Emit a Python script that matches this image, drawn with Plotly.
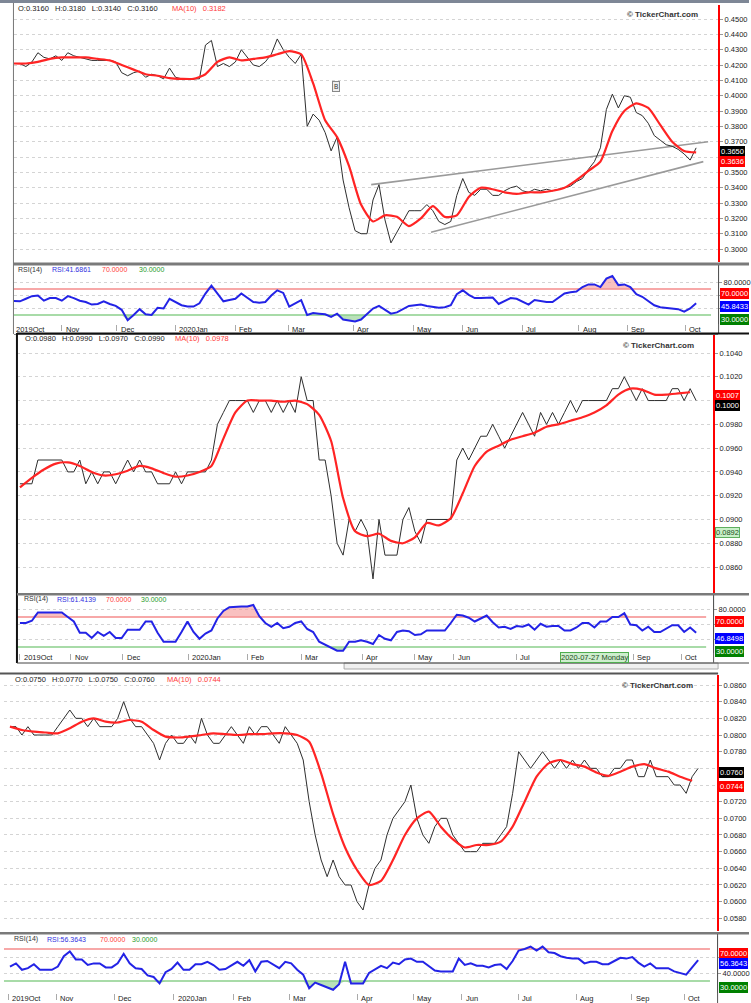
import numpy as np
import plotly.graph_objects as go

W, H = 751, 1003
FONT = "Liberation Sans, Arial, sans-serif"

MONTHS = ["2019Oct", "Nov", "Dec", "2020Jan", "Feb", "Mar", "Apr", "May",
          "Jun", "Jul", "Aug", "Sep", "Oct"]

# ---------------- Panel 1 ----------------
P1_CLOSE = [0.421, 0.421, 0.419, 0.422, 0.428, 0.425, 0.424, 0.426, 0.423, 0.428,
            0.426, 0.425, 0.424, 0.423, 0.423, 0.423, 0.423, 0.422, 0.415, 0.413,
            0.415, 0.416, 0.412, 0.414, 0.413, 0.411, 0.418, 0.412, 0.411, 0.411,
            0.411, 0.411, 0.433, 0.436, 0.419, 0.421, 0.419, 0.422, 0.430, 0.425,
            0.420, 0.419, 0.422, 0.427, 0.437, 0.430, 0.425, 0.421, 0.427, 0.380,
            0.388, 0.384, 0.376, 0.364, 0.373, 0.345, 0.327, 0.312, 0.310, 0.310,
            0.332, 0.342, 0.319, 0.304, 0.311, 0.318, 0.325, 0.325, 0.325, 0.329,
            0.325, 0.318, 0.316, 0.318, 0.335, 0.346, 0.337, 0.335, 0.339, 0.339,
            0.335, 0.335, 0.338, 0.340, 0.341, 0.338, 0.337, 0.339, 0.338, 0.339,
            0.338, 0.339, 0.340, 0.341, 0.344, 0.346, 0.352, 0.357, 0.366, 0.391,
            0.401, 0.392, 0.400, 0.399, 0.389, 0.387, 0.382, 0.374, 0.371, 0.368,
            0.367, 0.365, 0.362, 0.358, 0.366]
P1_MA = [0.421, 0.421, 0.422, 0.424, 0.425, 0.425, 0.425, 0.424, 0.423, 0.420,
         0.417, 0.414, 0.413, 0.4115, 0.411, 0.411, 0.414, 0.422, 0.425, 0.423,
         0.424, 0.425, 0.427, 0.429, 0.427, 0.408, 0.384, 0.373, 0.354, 0.329,
         0.318, 0.322, 0.321, 0.315, 0.320, 0.328, 0.321, 0.322, 0.334, 0.340,
         0.339, 0.337, 0.336, 0.337, 0.337, 0.338, 0.340, 0.345, 0.351, 0.357,
         0.377, 0.390, 0.395, 0.392, 0.381, 0.370, 0.364, 0.363]
P1_RSI = [51.5, 51, 55, 59, 60, 52, 56, 56, 52, 59,
          56, 52, 50, 46, 47, 51, 47, 44, 38, 22,
          30, 39, 31, 30, 41, 40, 55, 50, 45, 43,
          43, 48, 63, 75, 63, 51, 53, 55, 63, 57,
          50, 49, 50, 60, 68, 64, 43, 48, 53, 30,
          33, 32, 31, 27, 32, 23, 21, 20, 23, 31,
          40, 44, 37.5, 32, 34, 39, 44, 45, 46, 44,
          43, 41, 42, 45, 62, 68, 61, 56, 56, 57,
          57, 47, 51, 56, 55, 50, 46, 53, 51, 50,
          50, 56, 63, 65, 66, 73, 77, 77, 73, 86,
          90, 76, 77, 73, 62, 58, 51, 45, 42, 41,
          40, 39, 35, 40, 48]
P1_MONTH_IDX = [0, 8.3, 17.5, 27.3, 37.3, 46.2, 57, 67, 75.2, 85.2, 94.7, 102.8, 112.5]
P1_MONTHS = MONTHS
P1_YTICKS = [0.30, 0.31, 0.32, 0.33, 0.34, 0.35, 0.36, 0.37, 0.38, 0.39,
             0.40, 0.41, 0.42, 0.43, 0.44, 0.45]
P1_TREND_UP_X = [59.7, 116.0]
P1_TREND_UP_Y = [0.342, 0.370]
P1_TREND_LO_X = [69.7, 115.2]
P1_TREND_LO_Y = [0.311, 0.357]

# ---------------- Panel 2 ----------------
P2_CLOSE = [0.093, 0.093, 0.093, 0.095, 0.095, 0.095, 0.095, 0.095, 0.094, 0.094,
            0.095, 0.093, 0.094, 0.093, 0.094, 0.094, 0.093, 0.094, 0.095, 0.094,
            0.095, 0.094, 0.094, 0.093, 0.093, 0.093, 0.094, 0.093, 0.094, 0.094,
            0.094, 0.094, 0.095, 0.098, 0.099, 0.100, 0.100, 0.100, 0.100, 0.099,
            0.100, 0.100, 0.099, 0.100, 0.099, 0.100, 0.099, 0.102, 0.100, 0.100,
            0.095, 0.095, 0.092, 0.088, 0.087, 0.090, 0.089, 0.090, 0.089, 0.085,
            0.090, 0.087, 0.087, 0.087, 0.090, 0.091, 0.089, 0.088, 0.090, 0.090,
            0.090, 0.090, 0.090, 0.095, 0.096, 0.095, 0.096, 0.097, 0.097, 0.098,
            0.097, 0.096, 0.097, 0.098, 0.099, 0.098, 0.097, 0.099, 0.098, 0.099,
            0.098, 0.099, 0.100, 0.099, 0.100, 0.100, 0.100, 0.100, 0.100, 0.101,
            0.101, 0.102, 0.101, 0.100, 0.101, 0.100, 0.100, 0.100, 0.100, 0.101,
            0.101, 0.100, 0.101, 0.100]
P2_MA = [0.0927, 0.0935, 0.0942, 0.0947, 0.0948, 0.0945, 0.0940, 0.0937, 0.0938, 0.0941,
         0.0945, 0.0943, 0.0939, 0.0936, 0.0937, 0.0940, 0.0945, 0.0968, 0.0990, 0.1000,
         0.1000, 0.1000, 0.0999, 0.1000, 0.0997, 0.0988, 0.0966, 0.0918, 0.0890, 0.0886,
         0.0888, 0.0882, 0.0880, 0.0885, 0.0897, 0.0895, 0.0901, 0.0922, 0.0945, 0.0957,
         0.0962, 0.0967, 0.0970, 0.0973, 0.0978, 0.0980, 0.0983, 0.0986, 0.0990, 0.0996,
         0.1005, 0.1010, 0.1009, 0.1005, 0.1005, 0.1006, 0.1007]
P2_RSI = [62, 62, 65, 76, 76, 76, 76, 76, 70, 64,
          49, 49, 42, 50, 45, 50, 42, 42, 53, 53,
          53, 64, 64, 49, 37, 37, 37, 50, 64, 50,
          41, 48, 52, 68, 78, 83, 84, 84, 84, 86,
          71, 62, 57, 62, 55, 57, 62, 64, 54, 50,
          37, 33, 28, 25, 25, 37, 37, 39, 37, 34,
          46, 41, 39, 50, 52, 51, 46, 47, 52, 52,
          52, 52, 62, 73, 72, 69, 64, 68, 72, 63,
          56, 57, 54, 58, 57, 60, 53, 61, 57, 58,
          58, 52, 52, 56, 62, 62, 56, 64, 64, 70,
          70, 75, 60, 59, 52, 57, 50, 50, 55, 59,
          59, 50, 56, 49]
# Aug is hidden under the cursor-date box in the reference
P2_MONTH_IDX = [0.3, 8.8, 17.5, 28.5, 38.3, 47.3, 57.5, 66.2, 72.8, 83.3, 102.8, 110.8]
P2_MONTHS = ["2019Oct", "Nov", "Dec", "2020Jan", "Feb", "Mar", "Apr", "May",
             "Jun", "Jul", "Sep", "Oct"]
P2_YTICKS = [0.086, 0.088, 0.090, 0.092, 0.094, 0.096, 0.098, 0.100, 0.102, 0.104]

# ---------------- Panel 3 ----------------
P3_CLOSE = [0.081, 0.081, 0.080, 0.081, 0.080, 0.080, 0.080, 0.080, 0.081, 0.082,
            0.083, 0.082, 0.082, 0.081, 0.082, 0.081, 0.081, 0.081, 0.082, 0.084,
            0.082, 0.081, 0.081, 0.080, 0.079, 0.077, 0.079, 0.080, 0.079, 0.079,
            0.080, 0.079, 0.082, 0.080, 0.079, 0.079, 0.080, 0.081, 0.080, 0.079,
            0.081, 0.080, 0.081, 0.081, 0.080, 0.079, 0.081, 0.080, 0.079, 0.077,
            0.072, 0.068, 0.065, 0.063, 0.065, 0.063, 0.062, 0.062, 0.060, 0.059,
            0.062, 0.064, 0.065, 0.068, 0.070, 0.071, 0.072, 0.074, 0.070, 0.068,
            0.067, 0.069, 0.070, 0.070, 0.068, 0.067, 0.066, 0.066, 0.066, 0.067,
            0.067, 0.067, 0.068, 0.069, 0.073, 0.078, 0.077, 0.076, 0.077, 0.078,
            0.077, 0.076, 0.077, 0.076, 0.077, 0.076, 0.077, 0.076, 0.076, 0.075,
            0.075, 0.076, 0.076, 0.077, 0.077, 0.075, 0.075, 0.077, 0.075, 0.075,
            0.075, 0.074, 0.074, 0.073, 0.075, 0.076]
P3_MA = [0.0810, 0.0806, 0.0804, 0.0803, 0.0802, 0.0808, 0.0816, 0.0820, 0.0816, 0.0815,
         0.0818, 0.0816, 0.0806, 0.0798, 0.0797, 0.0798, 0.0800, 0.0802, 0.0801, 0.0800,
         0.0801, 0.0801, 0.0802, 0.0802, 0.0800, 0.0792, 0.0754, 0.0705, 0.0665, 0.0638,
         0.0620, 0.0625, 0.0650, 0.0680, 0.0700, 0.0708, 0.0690, 0.0675, 0.0665, 0.0668,
         0.0668, 0.0672, 0.0690, 0.0720, 0.0750, 0.0766, 0.0770, 0.0765, 0.0762, 0.0755,
         0.0751, 0.0756, 0.0762, 0.0765, 0.0760, 0.0756, 0.0750, 0.0745]
P3_RSI = [48, 52, 44, 46, 51, 44, 44, 44, 48, 61,
          67, 57, 57, 50, 52, 52, 47, 47, 52, 64,
          52, 46, 45, 37, 35, 27, 41, 45, 53, 44,
          44, 51, 51, 54, 50, 44, 45, 50, 54, 49,
          56, 42, 54, 55, 50, 46, 54, 52, 44, 38,
          21, 28, 25, 22, 19, 26, 54, 27, 27, 27,
          40, 44, 49, 46, 53, 51, 57, 58, 54, 54,
          49, 43, 42, 42, 42, 58, 50, 52, 49, 49,
          47, 50, 51, 45, 55, 68, 70, 73, 68, 73,
          66, 65, 61, 59, 58, 58, 52, 54, 54, 51,
          51, 55, 59, 58, 60, 53, 48, 52, 46, 46,
          46, 42, 40, 38, 47, 56]
P3_MONTH_IDX = [0, 8, 17.8, 27.7, 37.7, 47, 58.3, 67.7, 75.8, 85.2, 95, 104.2, 113]
P3_MONTHS = MONTHS
P3_YTICKS = [0.058, 0.060, 0.062, 0.064, 0.066, 0.068, 0.070, 0.072, 0.074, 0.076,
             0.078, 0.080, 0.082, 0.084, 0.086]

HEADERS = [
    ("O:0.3160", "H:0.3180", "L:0.3140", "C:0.3160", "0.3182"),
    ("O:0.0980", "H:0.0990", "L:0.0970", "C:0.0990", "0.0978"),
    ("O:0.0750", "H:0.0770", "L:0.0750", "C:0.0760", "0.0744"),
]
RSI_LAST = ["41.6861", "61.4139", "56.3643"]
RSI_BOX = ["45.8433", "46.8498", "56.3643"]


def fx(p):
    return p / W


def fy(p):
    return 1 - p / H


STEP = 6.0  # pixels per sample step
PANELS = [
    dict(close=P1_CLOSE, ma=P1_MA, rsi=P1_RSI, months=P1_MONTH_IDX, mlabels=P1_MONTHS, yt=P1_YTICKS,
         hide=[0.36],
         x0=14, left=14, right=720, ptop=5, pbot=262, rtop=266, rbot=324,
         prange=[0.29156, 0.45913], rrange=[16.15, 105.38], rgrid=[40, 60, 80], rlab=[80],
         label_y=329, head_x=16, head_y=8, ma_x=170, rhead_y=270,
         rhead_xs=[16, 50, 100, 137], logo=(627, 15), boxx=722,
         rboxes=[(293, "70.0000", "#ff0000"), (306, RSI_BOX[0], "#0000ff"), (319, "30.0000", "#008000")],
         pboxes=[(151.5, "0.3650", "#000000"), (161.5, "0.3636", "#ff0000")]),
    dict(close=P2_CLOSE, ma=P2_MA, rsi=P2_RSI, months=P2_MONTH_IDX, mlabels=P2_MONTHS, yt=P2_YTICKS,
         hide=[0.100],
         x0=20, left=17, right=715, ptop=335, pbot=593, rtop=596, rbot=653,
         prange=[0.083815, 0.105514], rrange=[22.0, 98.0], rgrid=[40, 60, 80], rlab=[80],
         label_y=657.5, head_x=23, head_y=338, ma_x=173, rhead_y=599,
         rhead_xs=[22, 55, 104, 139], logo=(623, 345), boxx=717,
         rboxes=[(621, "70.0000", "#ff0000"), (638, RSI_BOX[1], "#0000ff"), (651, "30.0000", "#008000")],
         pboxes=[(395.5, "0.1007", "#ff0000"), (405.5, "0.1000", "#000000")]),
    dict(close=P3_CLOSE, ma=P3_MA, rsi=P3_RSI, months=P3_MONTH_IDX, mlabels=P3_MONTHS, yt=P3_YTICKS,
         hide=[0.074, 0.076],
         x0=10, left=4, right=719, ptop=675, pbot=931, rtop=936, rbot=993,
         prange=[0.056479, 0.0872], rrange=[15.0, 86.25], rgrid=[40, 60], rlab=[40],
         label_y=998, head_x=13, head_y=679, ma_x=165, rhead_y=939,
         rhead_xs=[12, 45, 98, 130], logo=(622, 685), boxx=721,
         rboxes=[(953, "70.0000", "#ff0000"), (963.5, RSI_BOX[2], "#0000ff"), (987, "30.0000", "#008000")],
         pboxes=[(772, "0.0760", "#000000"), (786, "0.0744", "#ff0000")]),
]

fig = go.Figure()
layout = dict(width=W, height=H, margin=dict(l=0, r=0, t=0, b=0),
              paper_bgcolor="white", plot_bgcolor="white", showlegend=False,
              font=dict(family=FONT, size=8, color="#222"))
shapes = []
annotations = []


def hline(x0, x1, y, color, width):
    shapes.append(dict(type="line", xref="paper", yref="paper", x0=fx(x0), x1=fx(x1),
                       y0=fy(y), y1=fy(y), line=dict(color=color, width=width)))


def vline(x, y0, y1, color, width):
    shapes.append(dict(type="line", xref="paper", yref="paper", x0=fx(x), x1=fx(x),
                       y0=fy(y0), y1=fy(y1), line=dict(color=color, width=width)))


def rect(x0, x1, y0, y1, fill, line=None):
    shapes.append(dict(type="rect", xref="paper", yref="paper", x0=fx(x0), x1=fx(x1),
                       y0=fy(y1), y1=fy(y0), fillcolor=fill,
                       line=dict(color=line or fill, width=1 if line else 0)))


def text(x, y, s, color="#222", size=7.5, bold=False, xanchor="left"):
    annotations.append(dict(xref="paper", yref="paper", x=fx(x), y=fy(y), text=("<b>%s</b>" % s) if bold else s,
                            showarrow=False, xanchor=xanchor, yanchor="middle",
                            font=dict(family=FONT, size=size, color=color)))


def box(x, y, s, bg, fc="white", border=None):
    annotations.append(dict(xref="paper", yref="paper", x=fx(x), y=fy(y), text=s,
                            showarrow=False, xanchor="left", yanchor="middle",
                            bgcolor=bg, bordercolor=border or bg, borderwidth=1, borderpad=0,
                            font=dict(family=FONT, size=7.5, color=fc)))


NB = "\u00a0\u00a0\u00a0"

for p, P in enumerate(PANELS):
    a = 2 * p + 1
    b = 2 * p + 2
    xa = "x" if a == 1 else "x%d" % a
    ya = "y" if a == 1 else "y%d" % a
    xb, yb = "x%d" % b, "y%d" % b
    xr = [(P["left"] - P["x0"]) / STEP, (P["right"] - P["x0"]) / STEP]
    xdom = [fx(P["left"]), fx(P["right"])]

    close = np.array(P["close"])
    ma = np.array(P["ma"])
    rsi = np.array(P["rsi"], dtype=float)
    xi = np.arange(len(close))
    xm = np.arange(0, 2 * len(ma), 2)
    xr_i = np.arange(len(rsi))

    if p == 0:
        for tx, ty in ((P1_TREND_UP_X, P1_TREND_UP_Y), (P1_TREND_LO_X, P1_TREND_LO_Y)):
            fig.add_trace(go.Scatter(x=tx, y=ty, mode="lines", xaxis=xa, yaxis=ya,
                                     line=dict(color="#9a9a9a", width=1.6), hoverinfo="skip"))
    fig.add_trace(go.Scatter(x=xi, y=close, mode="lines", xaxis=xa, yaxis=ya,
                             line=dict(color="#2e2e2e", width=1)))
    fig.add_trace(go.Scatter(x=xm, y=ma, mode="lines", xaxis=xa, yaxis=ya,
                             line=dict(color="#ff2424", width=2.2, shape="spline", smoothing=0.6)))

    # RSI fills
    fig.add_trace(go.Scatter(x=xr_i, y=np.full(len(rsi), 70.0), mode="lines", xaxis=xb, yaxis=yb,
                             line=dict(width=0), hoverinfo="skip"))
    fig.add_trace(go.Scatter(x=xr_i, y=np.maximum(rsi, 70), mode="lines", xaxis=xb, yaxis=yb,
                             line=dict(width=0), fill="tonexty", fillcolor="rgba(245,150,150,0.6)",
                             hoverinfo="skip"))
    fig.add_trace(go.Scatter(x=xr_i, y=np.full(len(rsi), 30.0), mode="lines", xaxis=xb, yaxis=yb,
                             line=dict(width=0), hoverinfo="skip"))
    fig.add_trace(go.Scatter(x=xr_i, y=np.minimum(rsi, 30), mode="lines", xaxis=xb, yaxis=yb,
                             line=dict(width=0), fill="tonexty", fillcolor="rgba(140,205,140,0.6)",
                             hoverinfo="skip"))
    fig.add_trace(go.Scatter(x=xr_i, y=rsi, mode="lines", xaxis=xb, yaxis=yb,
                             line=dict(color="#2323e6", width=2)))

    for lvl, col in ((70, "#f7a8a8"), (30, "#a8dba8")):
        shapes.append(dict(type="line", xref=xb + " domain", yref=yb, x0=0, x1=0.99,
                           y0=lvl, y1=lvl, layer="below", line=dict(color=col, width=2)))

    layout["xaxis" if a == 1 else "xaxis%d" % a] = dict(
        domain=xdom, range=xr, anchor=ya, visible=False, fixedrange=True)
    layout["yaxis" if a == 1 else "yaxis%d" % a] = dict(
        domain=[fy(P["pbot"]), fy(P["ptop"])], range=P["prange"], anchor=xa, side="right",
        tickvals=P["yt"],
        ticktext=["" if any(abs(v - h) < 1e-9 for h in P["hide"]) else "%.4f" % v for v in P["yt"]],
        tickfont=dict(family=FONT, size=7.5, color="#222"), ticks="outside", ticklen=3,
        tickcolor="#999", showgrid=True, gridcolor="#d4d4d4", griddash="dot", gridwidth=1,
        showline=True, linecolor="#ff0000", linewidth=2, zeroline=False, fixedrange=True)
    layout["xaxis%d" % b] = dict(
        domain=xdom, range=xr, anchor=yb, showticklabels=False, ticks="outside", ticklen=6,
        tickcolor="#aaa", tickvals=[m - 0.3 for m in P["months"]], showgrid=False,
        zeroline=False, showline=False, fixedrange=True)
    layout["yaxis%d" % b] = dict(
        domain=[fy(P["rbot"]), fy(P["rtop"])], range=P["rrange"], anchor=xb, side="right",
        tickvals=P["rgrid"], ticktext=[("%.4f" % v) if v in P["rlab"] else "" for v in P["rgrid"]],
        tickfont=dict(family=FONT, size=7.5, color="#222"), ticks="outside", ticklen=3,
        tickcolor="#999", showgrid=True, gridcolor="#d4d4d4", griddash="dot",
        showline=True, linecolor="#555", linewidth=1, zeroline=False, fixedrange=True)

    # month labels
    for m, lab in zip(P["months"], P["mlabels"]):
        annotations.append(dict(xref=xb, yref="paper", x=m, y=fy(P["label_y"]), text=lab,
                                showarrow=False, xanchor="left", yanchor="middle", xshift=0,
                                font=dict(family=FONT, size=7.5, color="#222")))

    # headers
    o, h_, l_, c_, mav = HEADERS[p]
    text(P["head_x"], P["head_y"], NB.join([o, h_, l_, c_]), "#222")
    text(P["ma_x"], P["head_y"], "MA(10)" + NB + mav, "#ff3b3b")
    rx = P["rhead_xs"]
    text(rx[0], P["rhead_y"], "RSI(14)", "#333", size=7)
    text(rx[1], P["rhead_y"], "RSI:" + RSI_LAST[p], "#3030e0", size=7)
    text(rx[2], P["rhead_y"], "70.0000", "#ff3b3b", size=7)
    text(rx[3], P["rhead_y"], "30.0000", "#2a9a2a", size=7)
    text(P["logo"][0], P["logo"][1], "© TickerChart.com", "#333", size=8, bold=True)

    for yy, s, col in P["pboxes"]:
        box(P["boxx"], yy, s, col)
    for yy, s, col in P["rboxes"]:
        box(P["boxx"], yy, s, col)

# Panel 1 "B" marker
annotations.append(dict(xref="x", yref="y", x=53.8, y=0.4063, text="B", showarrow=False,
                        font=dict(family=FONT, size=6.5, color="#333"), bgcolor="#eeeeee",
                        bordercolor="#888", borderwidth=1, borderpad=1))

# Panel 2 extras
box(717, 532, "0.0892", "#c8f0c8", fc="#1d4d1d", border="#5fae5f")
annotations.append(dict(xref="paper", yref="paper", x=fx(561), y=fy(657.5), text="2020-07-27 Monday",
                        showarrow=False, xanchor="left", yanchor="middle", bgcolor="#cdeecd",
                        bordercolor="#4fae4f", borderwidth=1, borderpad=0,
                        font=dict(family=FONT, size=7.5, color="#1d4d1d")))

# frames / separators
rect(0, 751, 0, 3, "#7e8796")
vline(13.5, 3, 334, "#777", 1)
rect(14, 751, 262.5, 265.5, "#7a7a7a")
vline(720.5, 265, 334, "#555", 1)
hline(14, 720, 334.5, "#888", 1)

hline(17, 751, 333.5, "#111", 2)
vline(17, 333, 663, "#111", 2)
rect(17, 751, 593, 595.5, "#7a7a7a")
vline(715.5, 595, 663, "#555", 1)
rect(345, 720, 663, 669, "#f0f0f0", "#aaa")
hline(17, 751, 663, "#444", 1)

hline(0, 720, 673.5, "#555", 2)
rect(0, 751, 932, 934.5, "#7a7a7a")
vline(719.5, 934, 1003, "#555", 1)

layout["shapes"] = shapes
layout["annotations"] = annotations
fig.update_layout(**layout)

fig.write_html("out.html", include_plotlyjs=True, config={"displayModeBar": False, "staticPlot": True},
               post_script="document.body.style.margin='0';document.body.style.overflow='hidden';")
